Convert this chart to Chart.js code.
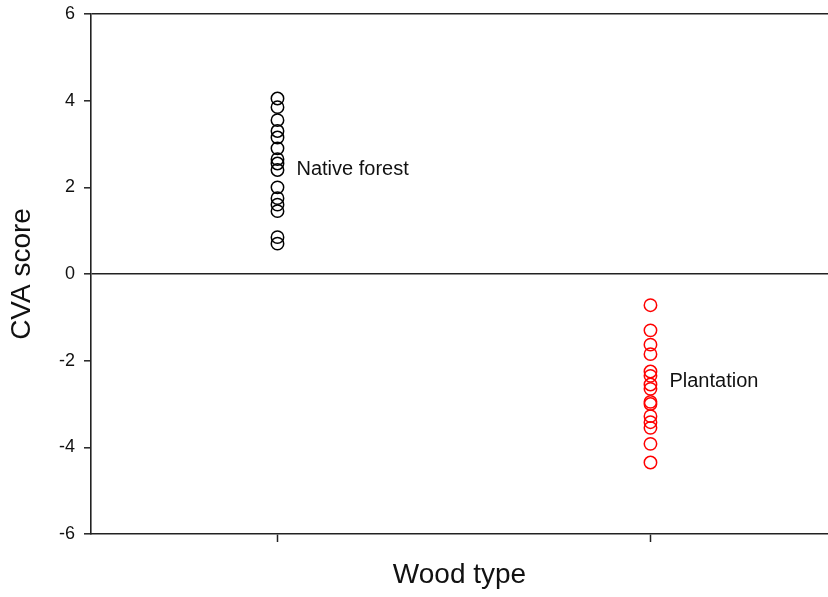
<!DOCTYPE html>
<html>
<head>
<meta charset="utf-8">
<style>
  html, body { margin: 0; padding: 0; background: #fff; }
  #wrap { width: 828px; height: 597px; }
</style>
<script src="https://cdn.jsdelivr.net/npm/chart.js@4.4.1/dist/chart.umd.min.js"></script>
</head>
<body>
<div id="wrap"><canvas id="c" width="828" height="597"></canvas></div>
<script>
// CVA scores per sample, grouped by wood type
const groups = ['Native forest', 'Plantation'];
const nativeForest = [4.05, 3.85, 3.55, 3.3, 3.15, 2.9, 2.65, 2.55, 2.4, 2.0, 1.75, 1.6, 1.45, 0.85, 0.7];
const plantation = [-0.72, -1.3, -1.63, -1.85, -2.25, -2.35, -2.55, -2.65, -2.95, -3.0, -3.28, -3.42, -3.55, -3.92, -4.35];
const yTicks = [-6, -4, -2, 0, 2, 4, 6];
const groupLabelY = [2.42, -2.49];
const groupColors = ['#000000', '#ff0000'];

const FONT = '"Liberation Sans", Arial, sans-serif';

const seriesValues = [nativeForest, plantation];
const datasets = groups.map((g, i) => ({
  label: g,
  data: seriesValues[i].map(v => ({ x: i, y: v })),
  pointStyle: 'circle',
  pointRadius: 6.2,
  pointHoverRadius: 6.2,
  pointBorderWidth: 1.5,
  pointBorderColor: groupColors[i],
  pointBackgroundColor: 'rgba(0,0,0,0)',
  showLine: false
}));

// Writes each group's name beside its column of points
const groupNames = {
  id: 'groupNames',
  afterDatasetsDraw(chart) {
    const { ctx, scales: { x, y } } = chart;
    ctx.save();
    ctx.font = '20px ' + FONT;
    ctx.fillStyle = '#111';
    ctx.textAlign = 'left';
    ctx.textBaseline = 'middle';
    groups.forEach((g, i) => {
      ctx.fillText(g, x.getPixelForValue(i) + 19, y.getPixelForValue(groupLabelY[i]));
    });
    ctx.restore();
  }
};

new Chart(document.getElementById('c'), {
  type: 'scatter',
  data: { datasets },
  plugins: [groupNames],
  options: {
    responsive: false,
    animation: false,
    layout: { autoPadding: false, padding: { top: 14, right: 0, bottom: 0, left: 0 } },
    plugins: {
      legend: { display: false },
      tooltip: { enabled: false }
    },
    scales: {
      x: {
        type: 'linear',
        min: -0.5,
        max: 1.476,
        afterBuildTicks(s) { s.ticks = groups.map((g, i) => ({ value: i })); },
        afterFit(s) { s.height = 63; s.paddingLeft = 0; s.paddingRight = 0; },
        ticks: { display: false },
        grid: {
          drawOnChartArea: false,
          drawTicks: true,
          tickLength: 8,
          tickColor: '#222',
          tickWidth: 1.5
        },
        border: { display: true, color: '#222', width: 1.6 },
        title: {
          display: true,
          text: 'Wood type',
          color: '#111',
          font: { family: FONT, size: 28 },
          padding: { top: 0, bottom: 5 }
        }
      },
      y: {
        type: 'linear',
        min: -6,
        max: 6,
        afterBuildTicks(s) { s.ticks = yTicks.map(v => ({ value: v })); },
        afterFit(s) { s.width = 91; s.paddingTop = 0; s.paddingBottom = 0; },
        ticks: {
          color: '#111',
          padding: 9,
          font: { family: FONT, size: 18 }
        },
        grid: {
          drawOnChartArea: true,
          color: c => (c.tick && (c.tick.value === 0 || c.tick.value === 6)) ? '#222' : 'rgba(0,0,0,0)',
          lineWidth: 1.6,
          drawTicks: true,
          tickLength: 7,
          tickColor: '#222',
          tickWidth: 1.5
        },
        border: { display: true, color: '#222', width: 1.6 },
        title: {
          display: true,
          text: 'CVA score',
          color: '#111',
          font: { family: FONT, size: 28 },
          padding: { top: 5, bottom: 0 }
        }
      }
    }
  }
});
</script>
</body>
</html>
